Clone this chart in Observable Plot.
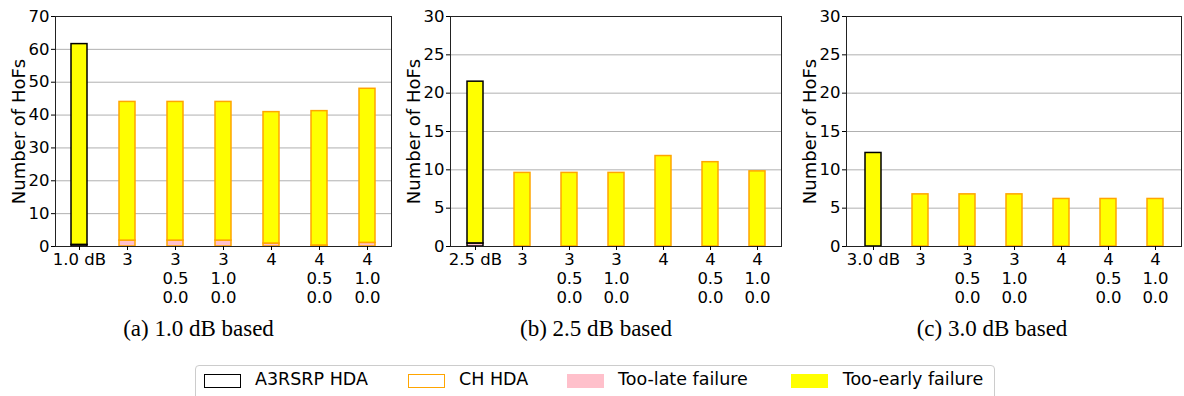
<!DOCTYPE html>
<html>
<head>
<meta charset="utf-8">
<script src="https://cdn.jsdelivr.net/npm/d3@7"></script>
<script src="https://cdn.jsdelivr.net/npm/@observablehq/plot@0.6"></script>
<style>
  html, body { margin: 0; padding: 0; background: #fff; }
  #root { position: relative; width: 1184px; height: 396px; overflow: hidden; font-family: "DejaVu Sans", sans-serif; }
  .panel { position: absolute; top: 0; }
  .caption { position: absolute; top: 316px; font-family: "Liberation Serif", "Times New Roman", serif; font-size: 23px; color: #000; transform: translateX(-50%); white-space: nowrap; }
  #legend { position: absolute; left: 195px; top: 365px; width: 800px; height: 44px; border: 1px solid #cccccc; border-radius: 4px; box-sizing: border-box; }
  .sw { position: absolute; top: 8px; width: 37px; height: 14px; box-sizing: border-box; }
  .lt { position: absolute; top: 3px; font-size: 17.5px; color: #000; white-space: nowrap; font-family: "DejaVu Sans", sans-serif; }
</style>
</head>
<body>
<div id="root"></div>
<script>
// ---- data ----
const baseLabels = ["1.0 dB", "2.5 dB", "3.0 dB"];
const chLabels = ["3", "3\n0.5\n0.0", "3\n1.0\n0.0", "4", "4\n0.5\n0.0", "4\n1.0\n0.0"];
const captions = ["(a) 1.0 dB based", "(b) 2.5 dB based", "(c) 3.0 dB based"];
const yMax = [70, 30, 30];
const yTickStep = [10, 5, 5];
// too-late failures (bottom segment) and total HoFs per bar
const lateA = [0.5, 1.8, 1.8, 1.8, 0.9, 0.3, 1.1];
const totalA = [61.6, 44.0, 44.0, 44.0, 40.9, 41.2, 48.0];
const lateB = [0.4, 0, 0, 0, 0, 0, 0];
const totalB = [21.5, 9.6, 9.6, 9.6, 11.8, 11.0, 9.8];
const lateC = [0, 0, 0, 0, 0, 0, 0];
const totalC = [12.2, 6.8, 6.8, 6.8, 6.2, 6.2, 6.2];
const legendLabels = ["A3RSRP HDA", "CH HDA", "Too-late failure", "Too-early failure"];

const lateAll = [lateA, lateB, lateC];
const totalAll = [totalA, totalB, totalC];

const root = document.getElementById("root");
const panelLeft = [0, 395, 790];
const panelWidth = [395, 395, 394];
const mLeft = [55, 55, 56];
const mRight = [4, 9, 3];
const capCenter = [198.5, 596, 992];

for (let p = 0; p < 3; p++) {
  const labels = [baseLabels[p], ...chLabels];
  const rows = labels.map((lab, i) => ({
    label: lab,
    late: lateAll[p][i],
    total: totalAll[p][i],
    edge: i === 0 ? "#000000" : "orange"
  }));
  const ticks = d3.range(0, yMax[p] + 0.001, yTickStep[p]);
  const chart = Plot.plot({
    width: panelWidth[p],
    height: 310,
    marginLeft: mLeft[p],
    marginRight: mRight[p],
    marginTop: 16,
    marginBottom: 64,
    style: { fontFamily: "DejaVu Sans, sans-serif", fontSize: "16.5px", color: "#000", background: "transparent" },
    x: { domain: labels, paddingInner: 0.667, paddingOuter: 0.3335, align: 0.5 },
    y: { domain: [0, yMax[p]] },
    marks: [
      Plot.gridY(ticks, { stroke: "#b0b0b0", strokeOpacity: 1, strokeWidth: 1 }),
      Plot.barY(rows, { x: "label", y1: 0, y2: "late", fill: "pink", stroke: "edge", strokeWidth: 1.5 }),
      Plot.barY(rows, { x: "label", y1: "late", y2: "total", fill: "yellow", stroke: "edge", strokeWidth: 1.5 }),
      Plot.frame({ stroke: "#222", strokeWidth: 1 }),
      Plot.axisY(ticks, { tickSize: 4, tickPadding: 2, fontSize: 16.5, label: "Number of HoFs", labelAnchor: "center", labelArrow: "none", labelOffset: 43 }),
      Plot.axisX({ tickSize: 4, tickPadding: 1, fontSize: 16.5, lineHeight: 1.16, label: null })
    ]
  });
  const yl = chart.querySelector('[aria-label="y-axis label"]');
  if (yl) yl.setAttribute("font-size", 18);
  chart.classList.add("panel");
  chart.style.left = panelLeft[p] + "px";
  root.appendChild(chart);

  const cap = document.createElement("div");
  cap.className = "caption";
  cap.style.left = capCenter[p] + "px";
  cap.textContent = captions[p];
  root.appendChild(cap);
}

// legend
const legend = document.createElement("div");
legend.id = "legend";
const swatchStyles = [
  { left: 7.7, border: "1.5px solid #000", bg: "transparent" },
  { left: 211.7, border: "1.5px solid orange", bg: "transparent" },
  { left: 370.7, border: "none", bg: "pink" },
  { left: 595, border: "none", bg: "yellow" }
];
const textLeft = [59, 263, 422, 646.7];
legendLabels.forEach((lab, i) => {
  const sw = document.createElement("div");
  sw.className = "sw";
  sw.style.left = swatchStyles[i].left + "px";
  sw.style.border = swatchStyles[i].border;
  sw.style.background = swatchStyles[i].bg;
  legend.appendChild(sw);
  const t = document.createElement("div");
  t.className = "lt";
  t.style.left = textLeft[i] + "px";
  t.textContent = lab;
  legend.appendChild(t);
});
root.appendChild(legend);
</script>
</body>
</html>
